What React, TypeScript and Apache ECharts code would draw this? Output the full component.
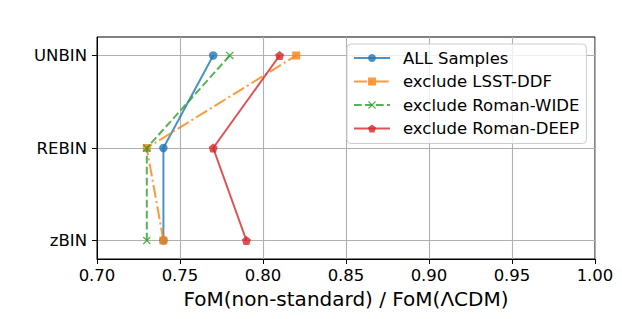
import React, { useEffect, useRef } from "react";
import * as echarts from "echarts";

const categories = ["zBIN", "REBIN", "UNBIN"];
const xTicks = [0.7, 0.75, 0.8, 0.85, 0.9, 0.95, 1.0];
const seriesNames = ["ALL Samples", "exclude LSST-DDF", "exclude Roman-WIDE", "exclude Roman-DEEP"];
const allSamples = [0.74, 0.74, 0.77];
const excludeLSSTDDF = [0.74, 0.73, 0.82];
const excludeRomanWIDE = [0.73, 0.73, 0.78];
const excludeRomanDEEP = [0.79, 0.77, 0.81];

const FONT = "DejaVu Sans";
const PENTAGON = "path://M0,-1 L0.951,-0.309 L0.588,0.809 L-0.588,0.809 L-0.951,-0.309 Z";
const XMARK =
  "path://M-1,-0.78 L-0.78,-1 L0,-0.22 L0.78,-1 L1,-0.78 L0.22,0 L1,0.78 L0.78,1 L0,0.22 L-0.78,1 L-1,0.78 L-0.22,0 Z";

export default function App() {
  const ref = useRef<HTMLDivElement>(null);
  useEffect(() => {
    if (!ref.current) return;
    const chart = echarts.init(ref.current, undefined, { renderer: "svg" });
    const toPairs = (vals: number[]) => vals.map((v, i) => [v, i]);
    const styles = [
      { color: "#1f77b4", symbol: "circle", size: 8.5, type: "solid" as any },
      { color: "#ff7f0e", symbol: "rect", size: 8, type: [13, 3.3, 2.1, 3.3] as any },
      { color: "#2ca02c", symbol: XMARK, size: 8, type: [7.7, 3.3] as any },
      { color: "#d62728", symbol: PENTAGON, size: 9, type: "solid" as any },
    ];
    const datas = [allSamples, excludeLSSTDDF, excludeRomanWIDE, excludeRomanDEEP];
    chart.setOption({
      animation: false,
      textStyle: { fontFamily: FONT },
      grid: {
        left: 97,
        right: 27,
        top: 37,
        bottom: 60,
        show: true,
        borderColor: "#000",
        borderWidth: 1,
        backgroundColor: "transparent",
      },
      legend: {
        orient: "vertical",
        left: 347,
        top: 44,
        data: seriesNames,
        itemWidth: 36,
        itemHeight: 10,
        itemGap: 3.5,
        padding: [4, 7, 5, 6],
        backgroundColor: "rgba(255,255,255,0.8)",
        borderColor: "#cccccc",
        borderWidth: 1,
        borderRadius: 4,
        textStyle: {
          fontSize: 16.5,
          color: "#000",
          fontFamily: FONT,
          lineHeight: 20,
          padding: [0, 0, 0, 8],
        },
      },
      xAxis: {
        type: "value",
        min: 0.7,
        max: 1.0,
        interval: 0.05,
        name: "FoM(non-standard) / FoM(ΛCDM)",
        nameLocation: "middle",
        nameGap: 28,
        nameTextStyle: { fontSize: 20, color: "#000", fontFamily: FONT },
        axisLine: { show: true, onZero: false, lineStyle: { color: "#000", width: 1 } },
        axisTick: { show: true, inside: false, length: 5, lineStyle: { color: "#000", width: 1 } },
        axisLabel: {
          fontSize: 16.5,
          color: "#000",
          margin: 8,
          fontFamily: FONT,
          formatter: (v: number) => v.toFixed(2),
          customValues: xTicks,
        },
        splitLine: { show: true, lineStyle: { color: "#b0b0b0", width: 1.1 } },
      },
      yAxis: {
        type: "value",
        min: -0.2,
        max: 2.2,
        axisLine: { show: true, onZero: false, lineStyle: { color: "#000", width: 1 } },
        axisTick: {
          show: true,
          inside: false,
          length: 5,
          lineStyle: { color: "#000", width: 1 },
          customValues: [0, 1, 2],
        },
        axisLabel: {
          fontSize: 16.5,
          color: "#000",
          margin: 10,
          fontFamily: FONT,
          customValues: [0, 1, 2],
          formatter: (v: number) => categories[Math.round(v)] ?? "",
        },
        splitLine: { show: true, lineStyle: { color: "#b0b0b0", width: 1.1 } },
      },
      series: datas.map((d, i) => ({
        name: seriesNames[i],
        type: "line",
        data: toPairs(d),
        symbol: styles[i].symbol,
        symbolSize: styles[i].size,
        showSymbol: true,
        z: 2 + i,
        lineStyle: { color: styles[i].color, width: 2, type: styles[i].type, opacity: 0.8 },
        itemStyle: { color: styles[i].color, opacity: 0.8, borderWidth: 0 },
        emphasis: { disabled: true },
      })),
    });
    return () => chart.dispose();
  }, []);
  return <div ref={ref} style={{ width: 622, height: 319, position: "absolute", left: 0, top: 0 }} />;
}
